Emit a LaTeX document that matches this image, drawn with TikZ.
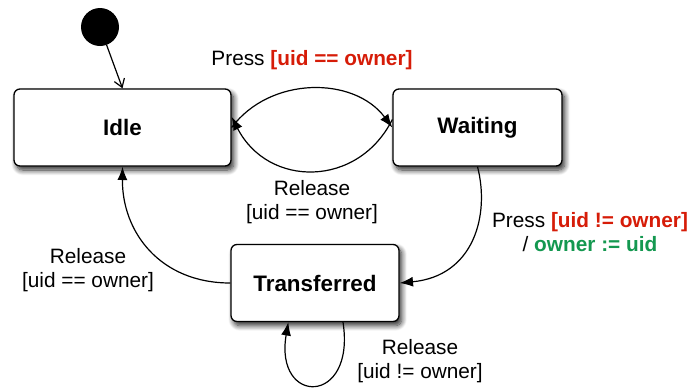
\documentclass[tikz,border=0pt]{standalone}
\usepackage{fontspec}
\setmainfont{Liberation Sans}
\usetikzlibrary{arrows.meta}
\usetikzlibrary{shadows.blur}
\usepackage{xcolor}
\definecolor{guardred}{RGB}{214,28,8}
\definecolor{actgreen}{RGB}{20,152,80}

\tikzset{
  statebox/.style={draw, line width=1pt, fill=white, rounded corners=4.5pt, align=center,
    font=\fontsize{16.8}{18}\selectfont\bfseries,
    blur shadow={shadow xshift=2pt, shadow yshift=-3pt, shadow blur steps=10, shadow blur radius=4pt, shadow opacity=85}},
  trans/.style={line width=0.9pt, -{Latex[length=10pt,width=7.5pt]}},
  evtext/.style={align=center, inner sep=0.75pt, font=\fontsize{15.6}{18.5}\selectfont}
}

\begin{document}
\begin{tikzpicture}[x=0.75pt,y=0.75pt,yscale=-1,xscale=1]
\useasboundingbox (0,0) rectangle (692,387);

%Shape: Initial state
\node [circle, fill=black, inner sep=0pt, minimum size=28.5pt] (init) at (100,27) {};

%Shape: States
\node [statebox, minimum width=162.75pt, minimum height=57.75pt] (idle) at (122.5,127.5) {Idle};
\node [statebox, minimum width=126.75pt, minimum height=57.75pt] (waiting) at (477.5,127.5) {Waiting};
\node [statebox, minimum width=126pt, minimum height=57.75pt] (transferred) at (315,283) {Transferred};

%Straight Lines: initial
\draw [line width=0.9pt, -{Straight Barb[length=6pt,width=8pt]}] (init) -- (idle.north);

%Curve Lines
\draw [trans] (idle.east) .. controls (270,76) and (354,76) .. (waiting.west);
\draw [trans] ([yshift=-6pt]waiting.west) .. controls (358,188) and (268,188) .. ([yshift=-8pt]idle.east);
\draw [trans] (waiting.south) .. controls (490,215) and (474,276) .. (transferred.east);
\draw [trans] (transferred.west) .. controls (160,283) and (122,232) .. (idle.south);
\draw [trans] ([xshift=21pt]transferred.south) .. controls (356,406) and (274,406) .. ([xshift=-20pt]transferred.south);

% Text Node
\node [evtext] (lblpress) at (312,60) {Press \textcolor{guardred}{\bfseries [uid == owner]}};
% Text Node
\node [evtext] (lblrelease) at (312,202) {Release\\{}[uid == owner]};
% Text Node
\node [evtext] (lblback) at (88,270) {Release\\{}[uid == owner]};
% Text Node
\node [evtext] (lbltake) at (590,232) {Press \textcolor{guardred}{\bfseries [uid != owner]}\\/ \textcolor{actgreen}{\bfseries owner := uid}};
% Text Node
\node [evtext] (lblself) at (420,361) {Release\\{}[uid != owner]};

\end{tikzpicture}
\end{document}
